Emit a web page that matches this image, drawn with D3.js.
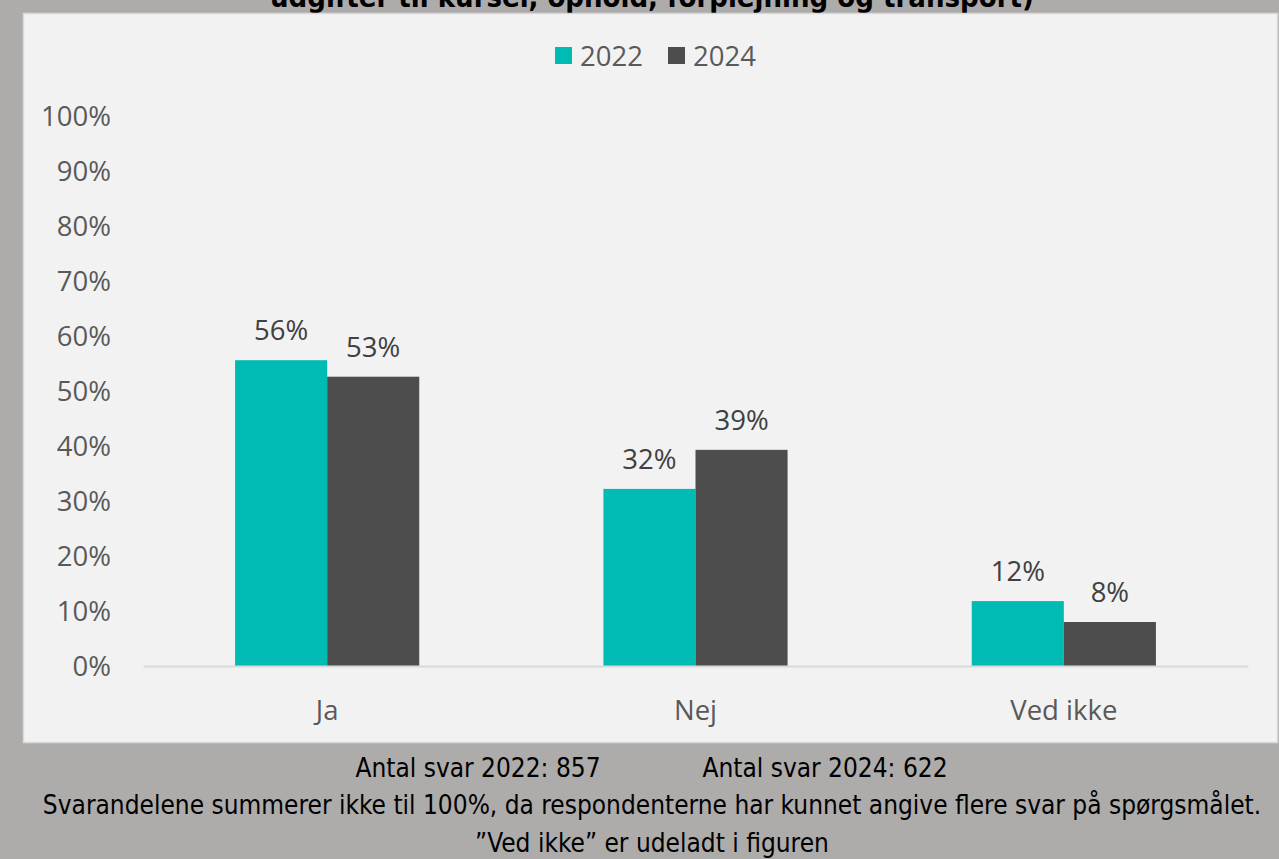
<!DOCTYPE html>
<html>
<head>
<meta charset="utf-8">
<script src="https://cdn.jsdelivr.net/npm/d3@7"></script>
<style>
  body { margin: 0; background: #aeabab; }
  svg { display: block; }
</style>
</head>
<body>
<script>
//chart data
var categories = ['Ja', 'Nej', 'Ved ikke'];
var years = ['2022', '2024'];
var values2022 = [55.6, 32.2, 11.8];
var values2024 = [52.6, 39.3, 8.0];
var labels2022 = ['56%', '32%', '12%'];
var labels2024 = ['53%', '39%', '8%'];
var yTicks = [0, 10, 20, 30, 40, 50, 60, 70, 80, 90, 100];
var titleText = 'udgifter til kurser, ophold, forplejning og transport)';
var notes = ['Svarandelene summerer ikke til 100%, da respondenterne har kunnet angive flere svar på spørgsmålet.',
             '\u201dVed ikke\u201d er udeladt i figuren'];
var counts = ['Antal svar 2022: 857', 'Antal svar 2024: 622'];

window.onload = drawChart();

function drawChart(){
    var width = 1279,
        height = 859;

    var colors = ['#00bbb4', '#4d4d4d'];

    var svg = d3.select('body')
        .append('svg')
        .attr('width', width)
        .attr('height', height);

    //outer grey frame
    svg.append('rect')
        .attr('width', width)
        .attr('height', height)
        .attr('fill', '#aeabab');

    //cut-off title at the very top
    svg.append('text')
        .attr('x', 652)
        .attr('y', 7)
        .attr('text-anchor', 'middle')
        .style('font-family', '"DejaVu Sans Condensed", "DejaVu Sans", sans-serif')
        .style('font-weight', 'bold')
        .style('font-size', '29px')
        .attr('fill', '#000')
        .text(titleText);

    //chart area
    svg.append('rect')
        .attr('x', 23.5)
        .attr('y', 13.5)
        .attr('width', 1254)
        .attr('height', 729)
        .attr('fill', '#f2f2f2')
        .attr('stroke', '#d9d9d9')
        .attr('stroke-width', 1.5);

    var x = d3.scaleBand()
        .domain(categories)
        .range([143, 1248])
        .paddingInner(0.5)
        .paddingOuter(0.25);

    var x1 = d3.scaleBand()
        .domain(years)
        .range([0, x.bandwidth()]);

    var y = d3.scaleLinear()
        .domain([0, 100])
        .range([666, 116]);

    var font = '"Open Sans", sans-serif';
    var fontSize = '27.5px';

    //y axis labels
    var yAxis = d3.axisLeft(y)
        .tickValues(yTicks)
        .tickSize(0)
        .tickPadding(0)
        .tickFormat(function(d){ return d + '%'; });

    var yg = svg.append('g')
        .attr('transform', 'translate(111,0)')
        .call(yAxis);
    yg.select('.domain').remove();
    yg.selectAll('text')
        .attr('dy', '0.35em')
        .style('font-family', font)
        .style('font-size', fontSize)
        .attr('fill', '#595959');

    //bars
    var series = [values2022, values2024];
    var seriesLabels = [labels2022, labels2024];

    years.forEach(function(yr, i){
        var g = svg.append('g');
        g.selectAll('rect')
            .data(series[i])
            .enter()
            .append('rect')
            .attr('x', function(d, j){ return x(categories[j]) + x1(yr); })
            .attr('y', function(d){ return y(d); })
            .attr('width', x1.bandwidth())
            .attr('height', function(d){ return y(0) - y(d); })
            .attr('fill', colors[i]);

        g.selectAll('text')
            .data(series[i])
            .enter()
            .append('text')
            .attr('x', function(d, j){ return x(categories[j]) + x1(yr) + x1.bandwidth() / 2; })
            .attr('y', function(d){ return y(d) - 20; })
            .attr('text-anchor', 'middle')
            .style('font-family', font)
            .style('font-size', fontSize)
            .attr('fill', '#404040')
            .text(function(d, j){ return seriesLabels[i][j]; });
    });

    //x axis
    var xAxis = d3.axisBottom(x)
        .tickSize(0)
        .tickPadding(0);

    var xg = svg.append('g')
        .attr('transform', 'translate(0,' + y(0) + ')')
        .call(xAxis);
    xg.select('.domain')
        .attr('stroke', '#d9d9d9')
        .attr('stroke-width', 2);
    xg.selectAll('text')
        .attr('y', 44)
        .attr('dy', '0.35em')
        .style('font-family', font)
        .style('font-size', fontSize)
        .attr('fill', '#595959');

    //legend
    var legendX = [555, 668];
    var legend = svg.append('g');
    years.forEach(function(yr, i){
        legend.append('rect')
            .attr('x', legendX[i])
            .attr('y', 47)
            .attr('width', 17)
            .attr('height', 17)
            .attr('fill', colors[i]);
        legend.append('text')
            .attr('x', legendX[i] + 25)
            .attr('y', 56)
            .attr('dy', '0.35em')
            .style('font-family', font)
            .style('font-size', fontSize)
            .attr('fill', '#595959')
            .text(yr);
    });

    //footnotes
    var noteFont = '"DejaVu Sans Condensed", "DejaVu Sans", sans-serif';
    var noteSize = '26px';
    var countX = [478, 825];
    counts.forEach(function(c, i){
        svg.append('text')
            .attr('x', countX[i])
            .attr('y', 768)
            .attr('dy', '0.35em')
            .attr('text-anchor', 'middle')
            .style('font-family', noteFont)
            .style('font-size', noteSize)
            .attr('fill', '#000')
            .text(c);
    });
    notes.forEach(function(n, i){
        svg.append('text')
            .attr('x', 652)
            .attr('y', 805 + i * 38)
            .attr('dy', '0.35em')
            .attr('text-anchor', 'middle')
            .style('font-family', noteFont)
            .style('font-size', noteSize)
            .attr('fill', '#000')
            .text(n);
    });
}
</script>
</body>
</html>
